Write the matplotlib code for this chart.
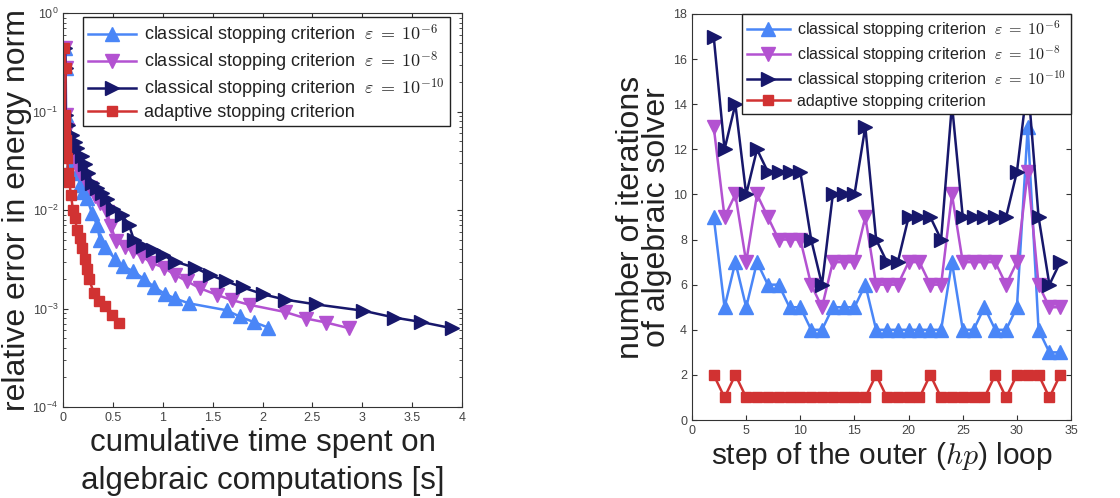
import numpy as np
import matplotlib
matplotlib.use('Agg')
import matplotlib.pyplot as plt

plt.rcParams['font.family'] = ['Liberation Sans', 'DejaVu Sans']
plt.rcParams['mathtext.fontset'] = 'cm'

# left panel: cumulative algebraic time [s] vs relative error
t_e6 = [0.02, 0.027, 0.03, 0.05, 0.07, 0.10, 0.14, 0.17, 0.20, 0.24, 0.29, 0.34, 0.37,
        0.42, 0.52, 0.60, 0.70, 0.81, 0.91, 1.02, 1.12, 1.26, 1.64, 1.77, 1.91, 2.06]
e_e6 = [0.44, 0.277, 0.092, 0.062, 0.044, 0.032, 0.024, 0.018, 0.0152, 0.0132, 0.0093,
        0.0071, 0.0050, 0.0042, 0.0032, 0.0027, 0.0024, 0.0020, 0.00167, 0.00141,
        0.00127, 0.00113, 0.00096, 0.00083, 0.00073, 0.00064]

t_e8 = [0.02, 0.027, 0.03, 0.04, 0.07, 0.12, 0.17, 0.22, 0.27, 0.32, 0.37, 0.44, 0.48,
        0.53, 0.62, 0.70, 0.79, 0.89, 1.01, 1.12, 1.24, 1.37, 1.54, 1.69, 1.87, 2.23,
        2.44, 2.64, 2.87]
e_e8 = [0.44, 0.277, 0.092, 0.065, 0.039, 0.032, 0.024, 0.020, 0.0168, 0.0139, 0.0118,
        0.0095, 0.0069, 0.0049, 0.0042, 0.0038, 0.0034, 0.0029, 0.0026, 0.0022, 0.0019,
        0.00161, 0.00138, 0.00122, 0.00109, 0.00092, 0.00079, 0.00072, 0.00063]

t_e10 = [0.02, 0.027, 0.027, 0.053, 0.087, 0.12, 0.14, 0.19, 0.22, 0.25, 0.29, 0.34,
         0.39, 0.44, 0.50, 0.59, 0.66, 0.71, 0.80, 0.90, 1.00, 1.12, 1.32, 1.47, 1.63,
         1.80, 2.01, 2.23, 2.54, 3.01, 3.32, 3.59, 3.90]
e_e10 = [0.44, 0.277, 0.092, 0.073, 0.058, 0.049, 0.043, 0.035, 0.029, 0.024, 0.019,
         0.0168, 0.0149, 0.0129, 0.0103, 0.0089, 0.0071, 0.0050, 0.0043, 0.0039, 0.0035,
         0.0030, 0.0026, 0.0022, 0.0019, 0.00164, 0.00139, 0.00123, 0.00110, 0.00095,
         0.00081, 0.00073, 0.00063]

t_ad = [0.01, 0.027, 0.02, 0.02, 0.025, 0.03, 0.035, 0.04, 0.053, 0.063, 0.08, 0.10,
        0.12, 0.14, 0.17, 0.19, 0.22, 0.24, 0.26, 0.31, 0.36, 0.42, 0.49, 0.56]
e_ad = [0.44, 0.277, 0.092, 0.076, 0.062, 0.051, 0.041, 0.034, 0.0236, 0.0194, 0.0142,
        0.0100, 0.0082, 0.0063, 0.0052, 0.0041, 0.0032, 0.0025, 0.0020, 0.00143,
        0.00120, 0.00106, 0.00086, 0.00071]

# right panel: iterations of the algebraic solver per outer step
steps = list(range(2, 35))
it_e6 = [9, 5, 7, 5, 7, 6, 6, 5, 5, 4, 4, 5, 5, 5, 6, 4, 4, 4, 4, 4, 4, 4, 7, 4, 4, 5,
         4, 4, 5, 13, 4, 3, 3]
it_e8 = [13, 9, 10, 7, 10, 9, 8, 8, 8, 6, 5, 7, 7, 7, 9, 6, 6, 6, 7, 7, 6, 6, 10, 7, 7,
         7, 7, 6, 7, 11, 6, 5, 5]
it_e10 = [17, 12, 14, 10, 12, 11, 11, 11, 11, 8, 6, 10, 10, 10, 13, 8, 7, 7, 9, 9, 9, 8,
          14, 9, 9, 9, 9, 9, 11, 15, 9, 6, 7]
it_ad = [2, 1, 2, 1, 1, 1, 1, 1, 1, 1, 1, 1, 1, 1, 1, 2, 1, 1, 1, 1, 2, 1, 1, 1, 1, 1,
         2, 1, 2, 2, 2, 1, 2]

labels = [r'classical stopping criterion  $\varepsilon \;=\; 10^{-6}$',
          r'classical stopping criterion  $\varepsilon \;=\; 10^{-8}$',
          r'classical stopping criterion  $\varepsilon \;=\; 10^{-10}$',
          'adaptive stopping criterion']
colors = ['#4a86f7', '#b352d1', '#17176b', '#d13232']
markers = ['^', 'v', '>', 's']
msizes = [9.5, 9.5, 9.5, 7]

fig = plt.figure(figsize=(11.2, 4.98), dpi=100)
ax1 = fig.add_axes([0.05625, 0.1827, 0.35625, 0.7912])
ax2 = fig.add_axes([0.6179, 0.1566, 0.3384, 0.8153])

left_data = [(t_e6, e_e6), (t_e8, e_e8), (t_e10, e_e10), (t_ad, e_ad)]
for (x, y), c, m, ms, lab in zip(left_data, colors, markers, msizes, labels):
    ax1.semilogy(x, y, color=c, marker=m, markersize=ms, linewidth=1.8, label=lab)

right_data = [it_e6, it_e8, it_e10, it_ad]
for y, c, m, ms, lab in zip(right_data, colors, markers, msizes, labels):
    ax2.plot(steps, y, color=c, marker=m, markersize=ms, linewidth=1.8, label=lab)

txt = '#222222'
ax1.set_xlim(0, 4)
ax1.set_ylim(1e-4, 1)
ax1.set_xticks(np.arange(0, 4.01, 0.5))
ax1.set_xticklabels(['0', '0.5', '1', '1.5', '2', '2.5', '3', '3.5', '4'])
ax1.set_xlabel('cumulative time spent on\nalgebraic computations [s]', fontsize=22.5,
               labelpad=3, linespacing=1.35, color=txt)
ax1.set_ylabel('relative error in energy norm', fontsize=23, labelpad=0, color=txt)

ax2.set_xlim(0, 35)
ax2.set_ylim(0, 18)
ax2.set_xticks(range(0, 36, 5))
ax2.set_yticks(range(0, 19, 2))
ax2.set_xlabel(r'step of the outer ($hp$) loop', fontsize=21.5, labelpad=2, color=txt)
ax2.set_ylabel('number of iterations\nof algebraic solver', fontsize=23, labelpad=1,
               linespacing=0.8, color=txt)

for ax in (ax1, ax2):
    ax.tick_params(which='both', direction='in', top=True, right=True,
                   labelsize=9, labelcolor='#444444', color='#333333')
    for s in ax.spines.values():
        s.set_color('#333333')
        s.set_linewidth(0.8)

leg_kw = dict(handlelength=2.65, handletextpad=0.45, borderpad=0.3, fancybox=False,
              edgecolor='#222222', framealpha=1, borderaxespad=0)
l1 = ax1.legend(loc='upper right', bbox_to_anchor=(0.97, 0.99), fontsize=13,
                labelspacing=0.15, **leg_kw)
l2 = ax2.legend(loc='upper right', bbox_to_anchor=(1.0, 1.0), fontsize=11.6,
                labelspacing=0.22, **leg_kw)
for l in (l1, l2):
    l.get_frame().set_linewidth(1.0)
    for t in l.get_texts():
        t.set_color(txt)

fig.savefig('out.png', dpi=100)
